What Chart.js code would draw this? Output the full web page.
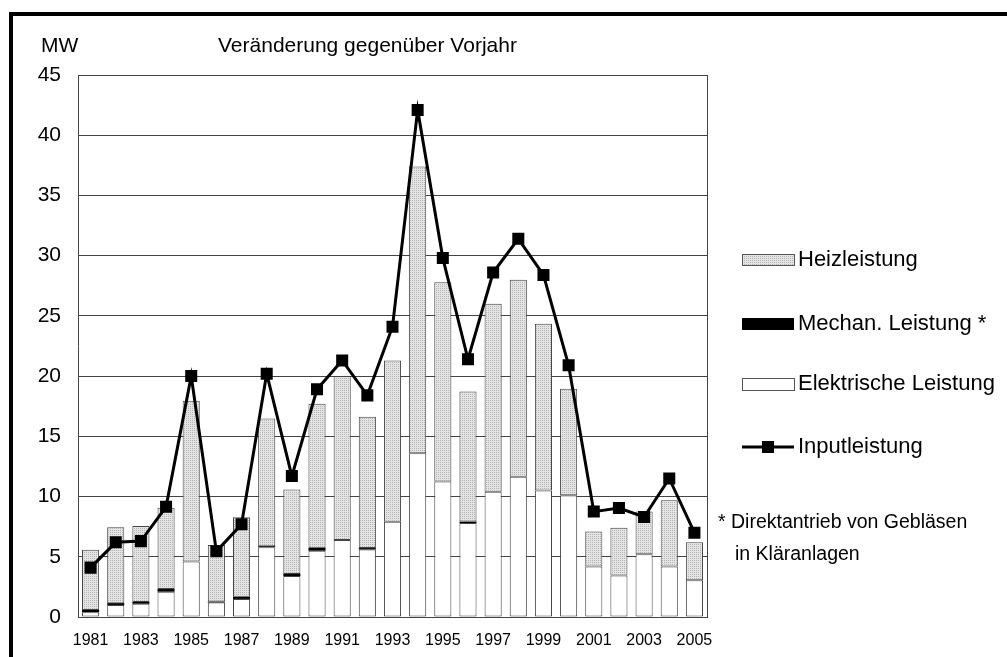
<!DOCTYPE html>
<html>
<head>
<meta charset="utf-8">
<script src="https://cdn.jsdelivr.net/npm/chart.js@4.4.1/dist/chart.umd.min.js"></script>
<style>
  html, body { margin: 0; padding: 0; background: #fff; }
  canvas { display: block; }
</style>
</head>
<body>
<canvas id="chart" width="1007" height="657"></canvas>
<script>
const years = ['1981', '1982', '1983', '1984', '1985', '1986', '1987', '1988', '1989', '1990',
  '1991', '1992', '1993', '1994', '1995', '1996', '1997', '1998', '1999', '2000',
  '2001', '2002', '2003', '2004', '2005'];
const yearLabels = ['1981', '1983', '1985', '1987', '1989', '1991', '1993', '1995', '1997', '1999', '2001', '2003', '2005'];
const yTicks = [0, 5, 10, 15, 20, 25, 30, 35, 40, 45];

// MW, Veränderung gegenüber Vorjahr
const elektrisch = [0.4, 1.0, 1.1, 2.1, 4.6, 1.2, 1.5, 5.8, 3.4, 5.5, 6.4, 5.6, 7.9, 13.6, 11.25, 7.8, 10.4, 11.65, 10.5, 10.1, 4.2, 3.45, 5.2, 4.2, 3.05];
const mechanisch = [0.18, 0.15, 0.15, 0.22, 0, 0.08, 0.18, 0.08, 0.18, 0.25, 0, 0.12, 0, 0, 0, 0.12, 0, 0, 0, 0, 0, 0, 0, 0, 0];
const heiz = [5.0, 6.3, 6.3, 6.75, 13.35, 4.7, 6.6, 10.6, 7.0, 11.95, 13.6, 10.9, 13.4, 23.8, 16.55, 10.8, 15.6, 16.35, 13.85, 8.85, 2.9, 3.95, 3.55, 5.5, 3.15];
const input = [4.1, 6.2, 6.3, 9.15, 20.0, 5.45, 7.7, 20.2, 11.7, 18.9, 21.3, 18.4, 24.1, 42.1, 29.8, 21.4, 28.6, 31.4, 28.4, 20.9, 8.75, 9.05, 8.3, 11.5, 7.0];

const FONT = '"Liberation Sans", Arial, sans-serif';
const canvas = document.getElementById('chart');
const ctx = canvas.getContext('2d');

// fein gepunktete Füllung für Heizleistung
function dotPattern() {
  const p = document.createElement('canvas');
  p.width = 2; p.height = 2;
  const g = p.getContext('2d');
  g.fillStyle = '#e4e4e4';
  g.fillRect(0, 0, 2, 2);
  g.fillStyle = '#b4b4b4';
  g.fillRect(0, 0, 1, 1);
  return ctx.createPattern(p, 'repeat');
}
const heizFill = dotPattern();

const extras = {
  id: 'extras',
  afterDraw(chart) {
    const c = chart.ctx;
    const a = chart.chartArea;
    c.save();
    // Rahmen
    c.fillStyle = '#000';
    c.fillRect(9, 12, 998, 4);
    c.fillRect(9, 12, 4, 645);
    // rechte Kante des Diagramms
    c.strokeStyle = '#444';
    c.lineWidth = 1;
    c.beginPath();
    c.moveTo(Math.round(a.right) + 0.5, a.top);
    c.lineTo(Math.round(a.right) + 0.5, a.bottom);
    c.stroke();

    c.fillStyle = '#000';
    c.textBaseline = 'middle';
    c.font = '21px ' + FONT;
    c.fillText('MW', 41, 46);
    c.fillText('Veränderung gegenüber Vorjahr', 218, 46);

    // Legende
    const lx = 742, lw = 52;
    c.fillStyle = heizFill;
    c.fillRect(lx, 254, lw, 11);
    c.strokeStyle = '#555';
    c.strokeRect(lx + 0.5, 254.5, lw, 11);
    c.fillStyle = '#000';
    c.fillRect(lx, 318, lw, 12);
    c.fillStyle = '#fff';
    c.fillRect(lx, 378, lw, 12);
    c.strokeRect(lx + 0.5, 378.5, lw, 12);
    c.strokeStyle = '#000';
    c.lineWidth = 3;
    c.beginPath();
    c.moveTo(lx, 447);
    c.lineTo(lx + lw, 447);
    c.stroke();
    c.fillStyle = '#000';
    c.fillRect(lx + lw / 2 - 6, 441, 12, 12);

    c.font = '22px ' + FONT;
    c.fillText('Heizleistung', 798, 260);
    c.fillText('Mechan. Leistung *', 798, 324);
    c.fillText('Elektrische Leistung', 798, 384);
    c.fillText('Inputleistung', 798, 447);

    c.font = '19.5px ' + FONT;
    c.fillText('* Direktantrieb von Gebläsen', 718, 523);
    c.fillText('in Kläranlagen', 735, 555);
    c.restore();
  }
};

new Chart(canvas, {
  data: {
    labels: years,
    datasets: [
      {
        type: 'bar',
        label: 'Elektrische Leistung',
        data: elektrisch,
        backgroundColor: '#fff',
        borderColor: '#444',
        borderWidth: 1,
        borderSkipped: false,
        order: 1
      },
      {
        type: 'bar',
        label: 'Mechan. Leistung *',
        data: mechanisch,
        backgroundColor: '#000',
        borderWidth: 0,
        order: 1
      },
      {
        type: 'bar',
        label: 'Heizleistung',
        data: heiz,
        backgroundColor: heizFill,
        borderColor: '#444',
        borderWidth: 1,
        borderSkipped: false,
        order: 1
      },
      {
        type: 'line',
        label: 'Inputleistung',
        data: input,
        stack: 'input',
        borderColor: '#000',
        borderWidth: 3,
        pointStyle: 'rect',
        pointRadius: 8.5,
        pointBackgroundColor: '#000',
        pointBorderColor: '#000',
        pointBorderWidth: 0,
        tension: 0,
        order: 0
      }
    ]
  },
  options: {
    responsive: false,
    animation: false,
    devicePixelRatio: 1,
    layout: { padding: { top: 75, right: 300, bottom: 0, left: 0 } },
    datasets: { bar: { barPercentage: 0.68, categoryPercentage: 1 } },
    plugins: { legend: { display: false }, tooltip: { enabled: false } },
    scales: {
      x: {
        stacked: true,
        grid: { display: false, drawTicks: false },
        border: { color: '#444' },
        ticks: {
          autoSkip: false,
          maxRotation: 0,
          padding: 14,
          color: '#000',
          font: { size: 16, family: FONT },
          callback(v) {
            const lab = this.getLabelForValue(v);
            return yearLabels.includes(lab) ? lab : '';
          }
        },
        afterFit(s) { s.height = 40; }
      },
      y: {
        stacked: true,
        min: 0,
        max: 45,
        afterBuildTicks(s) { s.ticks = yTicks.map(v => ({ value: v })); },
        ticks: { padding: 17, color: '#000', font: { size: 21, family: FONT } },
        grid: { color: '#444', lineWidth: 1, drawTicks: false },
        border: { color: '#444' },
        afterFit(s) { s.width = 78; }
      }
    }
  },
  plugins: [extras]
});
</script>
</body>
</html>
